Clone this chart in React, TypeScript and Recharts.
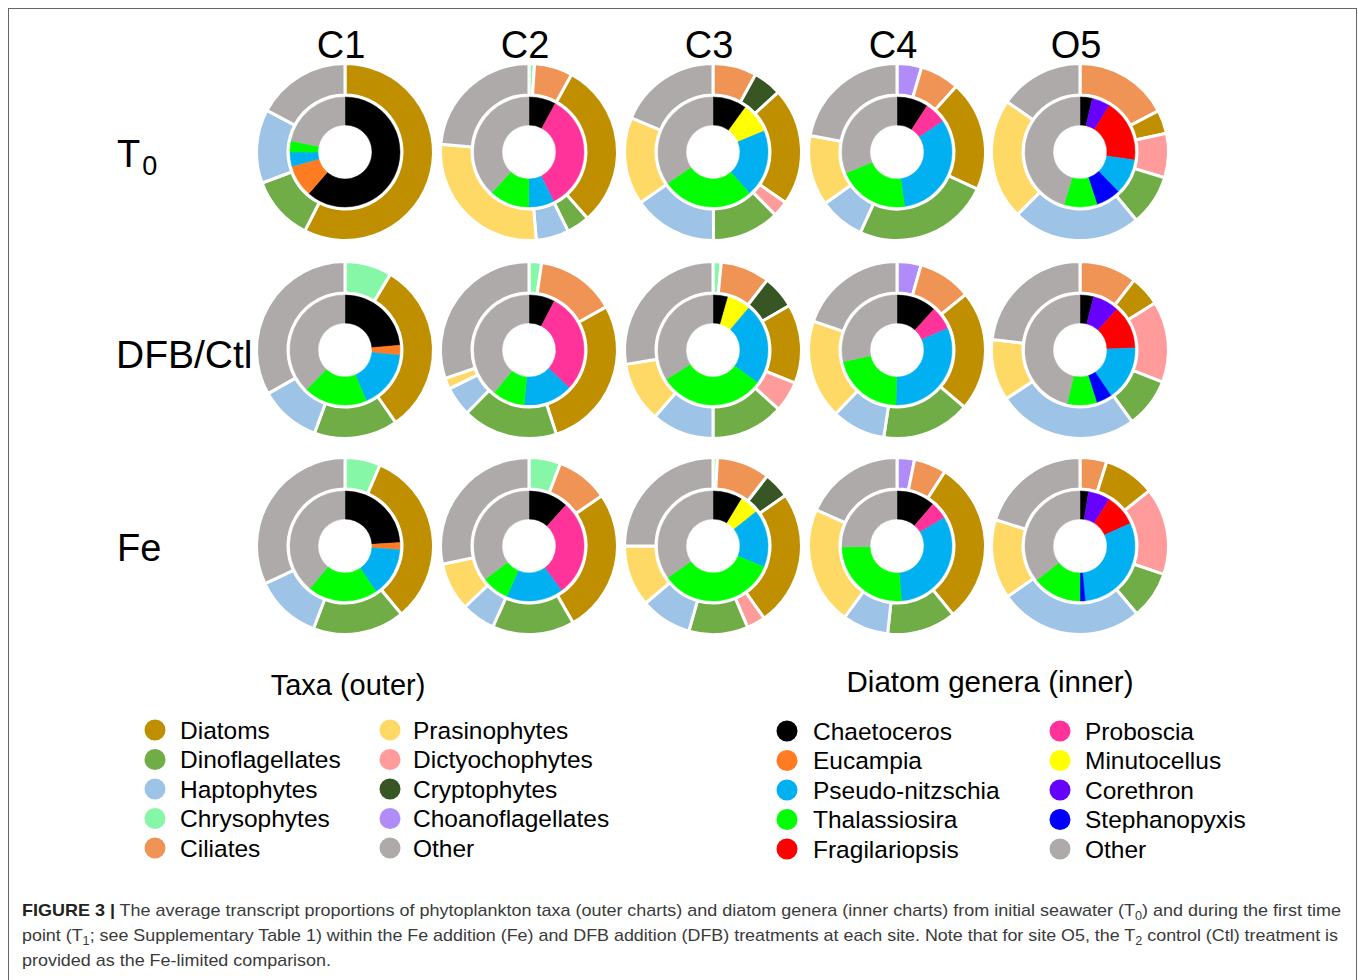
import React from "react";
import { PieChart, Pie, Cell } from "recharts";

// Sites (columns) and treatments (rows)
const sites = ["C1", "C2", "C3", "C4", "O5"];
const treatmentLabels = ["T", "DFB/Ctl", "Fe"];

// Outer ring: phytoplankton taxa (drawn clockwise in this order)
const taxa = [
  "Choanoflagellates", "Chrysophytes", "Ciliates", "Cryptophytes", "Diatoms",
  "Dictyochophytes", "Dinoflagellates", "Haptophytes", "Prasinophytes", "Other",
];
const taxaColors = [
  "#B08CF8", "#86F7A7", "#EF9455", "#375623", "#BF8F00",
  "#FF9B9B", "#70AD47", "#9DC3E6", "#FFD966", "#AEAAAA",
];

// Inner ring: diatom genera (drawn clockwise in this order)
const genera = [
  "Chaetoceros", "Corethron", "Eucampia", "Fragilariopsis", "Minutocellus",
  "Proboscia", "Pseudo-nitzschia", "Stephanopyxis", "Thalassiosira", "Other",
];
const generaColors = [
  "#000000", "#6600FF", "#FF7C22", "#FF0000", "#FFFF00",
  "#FF3399", "#00B0F0", "#0000FF", "#00FF00", "#AEAAAA",
];

// Transcript proportions (%) per site, taxa order above
const outerT0 = [
  [0, 0, 0, 0, 57.5, 0, 11.8, 13.5, 0, 17.2],
  [0, 1, 7, 0, 30.5, 0, 4.2, 6, 27.7, 23.6],
  [0, 0, 8, 5.2, 21.5, 2.9, 12.3, 15.4, 16, 18.7],
  [4.5, 0, 7.2, 0, 20.2, 0, 24.9, 8.3, 12.9, 22],
  [0, 0, 17.3, 0, 4.3, 8.1, 9.3, 23.5, 22.1, 15.4],
];
const outerDFB = [
  [0, 8.6, 0, 0, 31.7, 0, 15.3, 11.2, 0, 33.2],
  [0, 2.3, 14.6, 0, 28.1, 0, 17.4, 5.4, 2, 30.2],
  [0, 1.5, 9, 6.1, 14.5, 5.6, 13.3, 11.4, 11, 27.6],
  [4.4, 0, 9.8, 0, 22, 0, 16.2, 9.8, 18.1, 19.7],
  [0, 0, 10.5, 0, 5.6, 14.8, 9.1, 25.7, 11.2, 23.1],
];
const outerFe = [
  [0, 6.5, 0, 0, 32.5, 0, 16.8, 12.2, 0, 32],
  [0, 5.8, 9.6, 0, 26.3, 0, 15, 6.2, 8.8, 28.3],
  [0, 0.8, 9.7, 4.8, 24.9, 3.4, 10.8, 9.4, 11.2, 25],
  [3.2, 0, 5.9, 0, 30, 0, 12.6, 8.4, 21.6, 18.3],
  [0, 0, 4.9, 0, 9.4, 15.9, 8.7, 26.4, 14.5, 20.2],
];

// Diatom genus proportions (%) per site, genera order above
const innerT0 = [
  [61.4, 0, 9.4, 0, 0, 0, 4.2, 0, 3.3, 21.7],
  [7.9, 0, 0, 0, 0, 34.7, 7.5, 0, 11.7, 38.2],
  [10, 0, 0, 0, 8.8, 0, 19.7, 0, 26.9, 34.6],
  [9.2, 0, 0, 0, 0, 6.4, 32.2, 0, 21, 31.2],
  [3.6, 5.4, 0, 18.3, 0, 0, 10.5, 7.2, 9.7, 45.3],
];
const innerDFB = [
  [23.6, 0, 2.9, 0, 0, 0, 17.2, 0, 18.6, 37.7],
  [7.6, 0, 0, 0, 0, 29.4, 14.4, 0, 9.5, 39.1],
  [4.4, 0, 0, 0, 6.8, 0, 23.9, 0, 31, 33.9],
  [11.7, 0, 0, 0, 0, 6.9, 31.7, 0, 21.3, 28.4],
  [4, 7.7, 0, 12.7, 0, 0, 16.1, 4.6, 8.7, 46.2],
];
const innerFe = [
  [24, 0, 2.1, 0, 0, 0, 14.4, 0, 20.5, 39],
  [11.7, 0, 0, 0, 0, 28.3, 16.6, 0, 8.1, 35.3],
  [8.7, 0, 0, 0, 5.6, 0, 16.9, 0, 34.1, 34.7],
  [11.3, 0, 0, 0, 0, 5.1, 32.3, 0, 26, 25.3],
  [2.5, 6.4, 0, 9.4, 0, 0, 30.2, 1.5, 14.4, 35.6],
];

// Legend layout (two columns each)
const taxaLegendCols = [
  ["Diatoms", "Dinoflagellates", "Haptophytes", "Chrysophytes", "Ciliates"],
  ["Prasinophytes", "Dictyochophytes", "Cryptophytes", "Choanoflagellates", "Other"],
];
const generaLegendCols = [
  ["Chaetoceros", "Eucampia", "Pseudo-nitzschia", "Thalassiosira", "Fragilariopsis"],
  ["Proboscia", "Minutocellus", "Corethron", "Stephanopyxis", "Other"],
];

const outerRows = [outerT0, outerDFB, outerFe];
const innerRows = [innerT0, innerDFB, innerFe];

const colX = [345, 529, 713, 897, 1080];
const rowY = [152, 350, 546];

const FONT = "'Liberation Sans', Arial, Helvetica, sans-serif";

type Slice = { name: string; value: number; color: string };

function slices(names: string[], colors: string[], values: number[]): Slice[] {
  return names
    .map((name, i) => ({ name, value: values[i], color: colors[i] }))
    .filter((d) => d.value > 0);
}

function colorOf(names: string[], colors: string[], name: string) {
  return colors[names.indexOf(name)];
}

export default function App() {
  const pies: React.ReactNode[] = [];
  outerRows.forEach((row, r) => {
    row.forEach((vals, c) => {
      const outer = slices(taxa, taxaColors, vals);
      const inner = slices(genera, generaColors, innerRows[r][c]);
      pies.push(
        <Pie
          key={`o-${r}-${c}`}
          data={outer}
          dataKey="value"
          nameKey="name"
          cx={colX[c]}
          cy={rowY[r]}
          innerRadius={57}
          outerRadius={88.5}
          startAngle={90}
          endAngle={-270}
          stroke="#ffffff"
          strokeWidth={3}
          isAnimationActive={false}
        >
          {outer.map((d) => (
            <Cell key={d.name} fill={d.color} />
          ))}
        </Pie>
      );
      pies.push(
        <Pie
          key={`i-${r}-${c}`}
          data={inner}
          dataKey="value"
          nameKey="name"
          cx={colX[c]}
          cy={rowY[r]}
          innerRadius={27}
          outerRadius={55}
          startAngle={90}
          endAngle={-270}
          isAnimationActive={false}
        >
          {inner.map((d) => (
            <Cell key={d.name} fill={d.color} stroke={d.color} strokeWidth={0.5} />
          ))}
        </Pie>
      );
    });
  });

  const legendRowY = [730, 759.5, 789, 818.5, 848];

  return (
    <div
      style={{
        position: "relative",
        width: 1358,
        height: 980,
        overflow: "hidden",
        background: "#ffffff",
        fontFamily: FONT,
      }}
    >
      <style>{"body{margin:0;overflow:hidden;}"}</style>
      <div
        style={{
          position: "absolute",
          left: 8,
          top: 8,
          width: 1349,
          height: 1000,
          border: "1px solid #666666",
          boxSizing: "border-box",
        }}
      />
      <div style={{ position: "absolute", left: 0, top: 0 }}>
        <PieChart width={1358} height={660} margin={{ top: 0, right: 0, bottom: 0, left: 0 }}>
          {pies}
        </PieChart>
      </div>
      <svg
        width={1358}
        height={980}
        style={{ position: "absolute", left: 0, top: 0, pointerEvents: "none" }}
        fontFamily={FONT}
      >
        {/* Column titles */}
        {sites.map((s, i) => (
          <text key={s} x={colX[i] - 4} y={58} fontSize={38} textAnchor="middle" fill="#000">
            {s}
          </text>
        ))}

        {/* Row labels */}
        <text x={117} y={167} fontSize={38} fill="#000">
          {treatmentLabels[0]}
          <tspan fontSize={27} dx={2} dy={8}>0</tspan>
        </text>
        <text x={116} y={368} fontSize={39} fill="#000">
          {treatmentLabels[1]}
        </text>
        <text x={117} y={561} fontSize={38} fill="#000">
          {treatmentLabels[2]}
        </text>

        {/* Legend titles */}
        <text x={348} y={695} fontSize={29} textAnchor="middle" fill="#000">
          Taxa (outer)
        </text>
        <text x={990} y={692} fontSize={29.5} textAnchor="middle" fill="#000">
          Diatom genera (inner)
        </text>

        {/* Taxa legend */}
        {taxaLegendCols.map((col, ci) =>
          col.map((name, ri) => {
            const cx = ci === 0 ? 155 : 390;
            const tx = ci === 0 ? 180 : 413;
            const y = legendRowY[ri];
            return (
              <g key={`t-${name}`}>
                <circle cx={cx} cy={y} r={10.5} fill={colorOf(taxa, taxaColors, name)} />
                <text x={tx} y={y + 8.5} fontSize={24.5} fill="#000">
                  {name}
                </text>
              </g>
            );
          })
        )}

        {/* Genera legend */}
        {generaLegendCols.map((col, ci) =>
          col.map((name, ri) => {
            const cx = ci === 0 ? 787 : 1060;
            const tx = ci === 0 ? 813 : 1085;
            const y = legendRowY[ri] + 1;
            return (
              <g key={`g-${name}`}>
                <circle cx={cx} cy={y} r={10.5} fill={colorOf(genera, generaColors, name)} />
                <text x={tx} y={y + 8.5} fontSize={24.5} fill="#000">
                  {name}
                </text>
              </g>
            );
          })
        )}

        {/* Caption */}
        <g fill="#3a3a3a" fontSize={17}>
          <text x={22} y={916} textLength={1319} lengthAdjust="spacingAndGlyphs">
            <tspan fontWeight="bold" fill="#222">FIGURE 3 |</tspan>
            {" The average transcript proportions of phytoplankton taxa (outer charts) and diatom genera (inner charts) from initial seawater (T"}
            <tspan fontSize={12} dy={4}>0</tspan>
            <tspan dy={-4}>{") and during the first time"}</tspan>
          </text>
          <text x={22} y={941} textLength={1316} lengthAdjust="spacingAndGlyphs">
            {"point (T"}
            <tspan fontSize={12} dy={4}>1</tspan>
            <tspan dy={-4}>{"; see Supplementary Table 1) within the Fe addition (Fe) and DFB addition (DFB) treatments at each site. Note that for site O5, the T"}</tspan>
            <tspan fontSize={12} dy={4}>2</tspan>
            <tspan dy={-4}>{" control (Ctl) treatment is"}</tspan>
          </text>
          <text x={22} y={966} textLength={309} lengthAdjust="spacingAndGlyphs">
            provided as the Fe-limited comparison.
          </text>
        </g>
      </svg>
    </div>
  );
}
